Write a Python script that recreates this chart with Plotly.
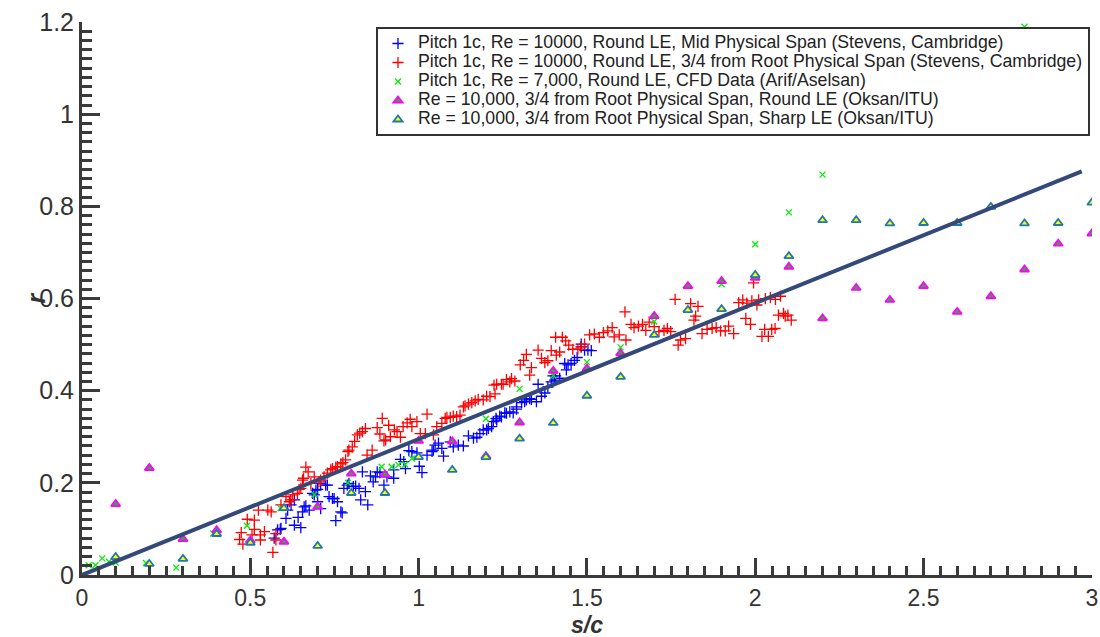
import plotly.graph_objects as go

# ---------------- data ----------------
blue_x = [0.571,0.581,0.589,0.591,0.606,0.611,0.621,0.631,0.631,0.642,0.650,0.655,0.660,0.665,0.675,
          0.685,0.690,0.695,0.700,0.700,0.709,0.709,0.724,0.729,0.734,0.744,0.749,0.754,0.759,0.769,
          0.773,0.778,0.788,0.793,0.806,0.813,0.823,0.828,0.833,0.842,0.849,0.857,0.865,0.872,0.877,
          0.885,0.897,0.906,0.926,0.926,0.946,0.956,0.961,0.971,0.980,0.995,1.002,1.010,1.025,1.040,
          1.044,1.049,1.059,1.069,1.074,1.094,1.103,1.118,1.133,1.148,1.163,1.173,1.182,1.192,1.202,
          1.207,1.217,1.222,1.230,1.232,1.241,1.246,1.256,1.261,1.271,1.281,1.291,1.291,1.306,1.315,
          1.320,1.330,1.335,1.350,1.355,1.365,1.375,1.384,1.394,1.399,1.404,1.407,1.419,1.434,1.439,
          1.444,1.453,1.463,1.471,1.483,1.483,1.493,1.503,1.513]
blue_y = [0.080,0.098,0.099,0.101,0.123,0.141,0.152,0.108,0.163,0.125,0.103,0.137,0.148,0.150,0.141,
          0.177,0.174,0.184,0.159,0.186,0.144,0.199,0.195,0.195,0.170,0.166,0.166,0.118,0.159,0.137,
          0.135,0.188,0.195,0.199,0.192,0.193,0.188,0.163,0.224,0.181,0.152,0.215,0.202,0.213,0.224,
          0.222,0.195,0.213,0.210,0.228,0.251,0.246,0.231,0.270,0.268,0.265,0.236,0.222,0.260,0.268,
          0.271,0.282,0.286,0.275,0.258,0.289,0.278,0.282,0.280,0.302,0.297,0.299,0.307,0.315,0.315,
          0.318,0.322,0.333,0.340,0.336,0.345,0.343,0.352,0.351,0.354,0.352,0.360,0.365,0.374,0.376,
          0.380,0.383,0.381,0.376,0.414,0.388,0.395,0.408,0.419,0.432,0.423,0.432,0.427,0.459,0.445,
          0.456,0.459,0.466,0.472,0.495,0.501,0.488,0.488,0.487]

red_x = [0.468,0.478,0.473,0.491,0.512,0.512,0.505,0.530,0.542,0.524,0.552,0.562,0.567,0.576,0.576,
         0.530,0.591,0.606,0.616,0.620,0.626,0.640,0.645,0.650,0.655,0.658,0.665,0.672,0.680,0.690,
         0.704,0.709,0.719,0.729,0.739,0.744,0.754,0.759,0.769,0.775,0.783,0.790,0.793,0.803,0.810,
         0.818,0.825,0.833,0.842,0.847,0.862,0.877,0.885,0.892,0.897,0.902,0.911,0.916,0.928,0.936,
         0.946,0.954,0.966,0.975,0.980,0.995,1.005,1.020,1.025,1.044,1.054,1.069,1.079,1.084,1.094,
         1.103,1.113,1.123,1.133,1.138,1.148,1.158,1.168,1.177,1.192,1.202,1.212,1.227,1.224,1.232,
         1.246,1.251,1.261,1.271,1.276,1.286,1.302,1.312,1.320,1.330,1.335,1.355,1.365,1.375,1.384,
         1.394,1.409,1.419,1.407,1.427,1.437,1.446,1.458,1.473,1.483,1.493,1.508,1.522,1.537,1.549,
         1.562,1.575,1.581,1.596,1.613,1.616,1.631,1.640,1.653,1.665,1.675,1.685,1.700,1.714,1.729,
         1.739,1.749,1.762,1.771,1.778,1.793,1.808,1.818,1.823,1.830,1.842,1.857,1.872,1.884,1.897,
         1.911,1.921,1.936,1.951,1.963,1.972,1.975,1.986,1.990,1.995,2.005,2.010,2.020,2.028,2.030,
         2.039,2.045,2.049,2.059,2.060,2.069,2.075,2.084,2.089,2.097,2.107]
red_y = [0.077,0.067,0.092,0.121,0.119,0.099,0.087,0.087,0.094,0.141,0.141,0.137,0.049,0.076,0.090,
         0.076,0.152,0.170,0.159,0.163,0.174,0.177,0.186,0.188,0.206,0.210,0.234,0.224,0.199,0.213,
         0.202,0.206,0.213,0.221,0.228,0.231,0.234,0.235,0.241,0.244,0.250,0.268,0.271,0.278,0.290,
         0.304,0.308,0.311,0.318,0.260,0.271,0.320,0.306,0.340,0.291,0.293,0.325,0.300,0.315,0.311,
         0.299,0.322,0.330,0.338,0.322,0.333,0.307,0.307,0.349,0.304,0.322,0.329,0.340,0.342,0.342,
         0.345,0.344,0.347,0.365,0.367,0.371,0.374,0.378,0.381,0.380,0.388,0.387,0.393,0.412,0.414,
         0.414,0.414,0.424,0.419,0.426,0.421,0.456,0.466,0.479,0.434,0.450,0.488,0.470,0.461,0.465,
         0.487,0.477,0.484,0.516,0.516,0.508,0.499,0.490,0.490,0.495,0.501,0.521,0.523,0.516,0.526,
         0.530,0.537,0.517,0.521,0.571,0.510,0.544,0.537,0.540,0.544,0.531,0.549,0.539,0.528,0.531,
         0.535,0.528,0.598,0.499,0.510,0.513,0.589,0.553,0.562,0.583,0.524,0.533,0.535,0.537,0.530,
         0.530,0.540,0.524,0.591,0.597,0.557,0.590,0.544,0.595,0.634,0.586,0.597,0.518,0.533,0.600,
         0.518,0.602,0.533,0.535,0.598,0.564,0.605,0.568,0.562,0.564,0.553]

green_x = [0.02,0.04,0.06,0.08,0.10,0.19,0.28,0.39,0.49,0.59,0.69,0.79,0.89,0.92,0.94,0.96,0.98,
           1.20,1.30,1.40,1.50,1.60,1.70,1.90,2.00,2.10,2.20,2.80]
green_y = [0.021,0.021,0.036,0.029,0.027,0.026,0.016,0.090,0.107,0.145,0.174,0.200,0.235,0.235,
           0.239,0.240,0.253,0.339,0.404,0.433,0.462,0.494,0.550,0.631,0.718,0.787,0.869,1.190]

oksan_x = [0.1,0.2,0.3,0.4,0.5,0.6,0.7,0.8,0.9,1.0,1.1,1.2,1.3,1.4,1.5,
           1.6,1.7,1.8,1.9,2.0,2.1,2.2,2.3,2.4,2.5,2.6,2.7,2.8,2.9,3.0]
round_y = [0.154,0.232,0.078,0.097,0.075,0.072,0.148,0.220,0.218,0.291,0.290,0.258,0.331,0.443,0.448,
           0.481,0.562,0.627,0.638,0.645,0.669,0.557,0.623,0.597,0.627,0.571,0.605,0.663,0.719,0.741]
sharp_y = [0.039,0.024,0.035,0.089,0.070,0.145,0.063,0.178,0.178,0.256,0.228,0.256,0.296,0.330,0.389,
           0.430,0.521,0.575,0.577,0.651,0.692,0.770,0.770,0.763,0.764,0.764,0.799,0.763,0.764,0.808]

fit_x = [0.0, 2.97]
fit_y = [0.0, 0.876]

x_ticks = [0, 0.5, 1, 1.5, 2, 2.5, 3]
x_labels = ["0", "0.5", "1", "1.5", "2", "2.5", "3"]
y_ticks = [0, 0.2, 0.4, 0.6, 0.8, 1.0, 1.2]
y_labels = ["0", "0.2", "0.4", "0.6", "0.8", "1", "1.2"]

names = [
    "Pitch 1c, Re = 10000, Round LE, Mid Physical Span (Stevens, Cambridge)",
    "Pitch 1c, Re = 10000, Round LE, 3/4 from Root Physical Span (Stevens, Cambridge)",
    "Pitch 1c, Re = 7,000, Round LE, CFD Data (Arif/Aselsan)",
    "Re = 10,000, 3/4 from Root Physical Span, Round LE (Oksan/ITU)",
    "Re = 10,000, 3/4 from Root Physical Span, Sharp LE (Oksan/ITU)",
]


def leg(s):
    # larger legend text while keeping the compact row spacing of the original
    return '<span style="font-size:17.7px">' + s + '</span>'


# ---------------- figure ----------------
fig = go.Figure()
fig.add_trace(go.Scatter(x=blue_x, y=blue_y, mode="markers", name=leg(names[0]),
                         marker=dict(symbol="cross-thin", size=8, color="#0000ff",
                                     line=dict(color="#0000ff", width=1.3))))
fig.add_trace(go.Scatter(x=red_x, y=red_y, mode="markers", name=leg(names[1]),
                         marker=dict(symbol="cross-thin", size=8, color="#ff0000",
                                     line=dict(color="#ff0000", width=1.3))))
fig.add_trace(go.Scatter(x=green_x, y=green_y, mode="markers", name=leg(names[2]),
                         marker=dict(symbol="x-thin", size=6, color="#00ee00",
                                     line=dict(color="#00ee00", width=1.3))))
fig.add_trace(go.Scatter(x=oksan_x, y=round_y, mode="markers", name=leg(names[3]),
                         marker=dict(symbol="triangle-up", size=8, color="#22bb22",
                                     line=dict(color="#ff00ff", width=1.8))))
fig.add_trace(go.Scatter(x=oksan_x, y=sharp_y, mode="markers", name=leg(names[4]),
                         marker=dict(symbol="triangle-up", size=8, color="#ffff00",
                                     line=dict(color="#1f77b4", width=1.8))))
fig.add_trace(go.Scatter(x=fit_x, y=fit_y, mode="lines", showlegend=False,
                         line=dict(color="#34497a", width=4)))

axis_col = "#3a3a3a"
fig.update_layout(
    width=1100, height=637,
    margin=dict(l=82, r=8, t=22, b=62, autoexpand=False),
    plot_bgcolor="white", paper_bgcolor="white",
    font=dict(family="Liberation Sans, Arial, sans-serif", color="#333333"),
    legend=dict(x=0.998, y=0.991, xanchor="right", yanchor="top",
                bordercolor="#333333", borderwidth=2, bgcolor="white",
                font=dict(size=11, color="#222222"), tracegroupgap=0),
    xaxis=dict(range=[0, 3.0005], tickvals=x_ticks, ticktext=x_labels, automargin=False,
               ticks="inside", ticklen=17, tickwidth=2.5, tickcolor=axis_col,
               showline=True, linewidth=3, linecolor=axis_col, ticklabeloverflow="allow",
               showgrid=False, zeroline=False, tickfont=dict(size=23, color="#333333"),
               minor=dict(dtick=0.05, ticks="inside", ticklen=9, tickwidth=2.5, tickcolor=axis_col)),
    yaxis=dict(range=[0, 1.2002], tickvals=y_ticks, ticktext=y_labels, automargin=False,
               ticks="inside", ticklen=18, tickwidth=2.5, tickcolor=axis_col,
               showline=True, linewidth=3, linecolor=axis_col, ticklabeloverflow="allow",
               showgrid=False, zeroline=False, tickfont=dict(size=25, color="#333333"),
               minor=dict(dtick=0.02, ticks="inside", ticklen=10, tickwidth=2.5, tickcolor=axis_col)),
    annotations=[
        dict(text="<b><i>s/c</i></b>", x=0.5, y=-0.0905, xref="paper", yref="paper",
             xanchor="center", yanchor="middle", showarrow=False,
             font=dict(size=23, color="#333333"), borderpad=0),
        dict(text="<b><i>r</i></b>", x=-0.0465, y=0.5, xref="paper", yref="paper",
             xanchor="center", yanchor="middle", showarrow=False, textangle=-90,
             font=dict(size=25, color="#333333"), borderpad=0),
    ],
)

fig.write_html("out.html")
